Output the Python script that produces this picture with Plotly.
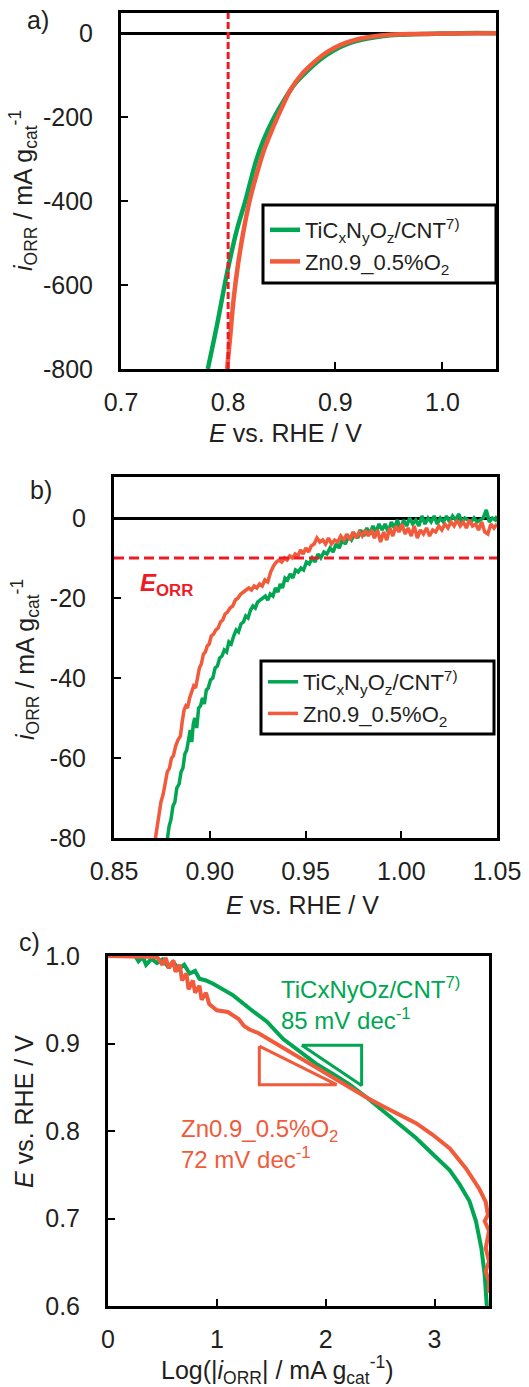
import plotly.graph_objects as go

# ---------------- data ----------------
# Panel a: ORR current vs potential
A_GREEN_E = [0.781, 0.790, 0.799, 0.808, 0.816, 0.826, 0.833, 0.842, 0.852, 0.862, 0.874,
             0.886, 0.898, 0.912, 0.930, 0.945, 0.960, 0.980, 1.000, 1.020, 1.050]
A_GREEN_I = [-800, -690, -571, -470, -400, -305, -255, -205, -160, -122, -90,
             -63, -42, -25, -13, -7, -4, -2, -1, 0, 0]
A_RED_E = [0.799, 0.802, 0.805, 0.809, 0.814, 0.820, 0.827, 0.834, 0.842, 0.850, 0.858,
           0.868, 0.880, 0.892, 0.905, 0.920, 0.935, 0.950, 0.970, 1.000, 1.050]
A_RED_I = [-800, -720, -636, -555, -476, -400, -333, -275, -224, -178, -136,
           -100, -70, -46, -28, -15, -8, -4, -2, -1, 0]
A_EORR_E = 0.8

# Panel b: zoom near onset
B_GREEN_E = [0.8778, 0.8788, 0.8797, 0.8808, 0.8818, 0.8828, 0.8840, 0.8850, 0.8860, 0.8870,
             0.8880, 0.8890, 0.8898, 0.8906, 0.8914, 0.8922, 0.8932, 0.8942, 0.8952, 0.8962,
             0.8972, 0.8982, 0.8992, 0.9004, 0.9016, 0.9028, 0.9040, 0.9052, 0.9064, 0.9076,
             0.9088, 0.9100, 0.9112, 0.9125, 0.9138, 0.9150, 0.9163, 0.9176, 0.9188, 0.9200,
             0.9213, 0.9226, 0.9238, 0.9250, 0.9263, 0.9276, 0.9290, 0.9303, 0.9316, 0.9330,
             0.9343, 0.9356, 0.9368, 0.9380, 0.9393, 0.9406, 0.9420, 0.9434, 0.9448, 0.9462,
             0.9476, 0.9490, 0.9505, 0.9520, 0.9535, 0.9550, 0.9565, 0.9580, 0.9596, 0.9612,
             0.9628, 0.9644, 0.9660, 0.9676, 0.9692, 0.9708, 0.9724, 0.9740, 0.9756, 0.9772,
             0.9788, 0.9804, 0.9820, 0.9836, 0.9852, 0.9868, 0.9884, 0.9900, 0.9916, 0.9932,
             0.9948, 0.9964, 0.9980, 0.9996, 1.0012, 1.0028, 1.0044, 1.0060, 1.0076, 1.0092,
             1.0108, 1.0124, 1.0140, 1.0156, 1.0172, 1.0188, 1.0204, 1.0220, 1.0236, 1.0252,
             1.0268, 1.0284, 1.0300, 1.0316, 1.0332, 1.0348, 1.0364, 1.0380, 1.0396, 1.0412,
             1.0428, 1.0444, 1.0460, 1.0476, 1.0492, 1.0500]
B_GREEN_I = [-80.5, -77.0, -75.5, -72.0, -71.0, -67.5, -66.5, -63.5, -62.5, -59.0,
             -58.0, -55.0, -53.0, -56.0, -51.5, -50.0, -52.5, -47.5, -47.0, -45.0,
             -46.5, -43.0, -42.5, -40.5, -40.0, -37.5, -37.0, -35.0, -34.5, -33.0,
             -33.5, -31.0, -31.5, -29.5, -28.0, -28.5, -26.5, -26.0, -24.5, -25.0,
             -23.0, -22.0, -22.5, -21.0, -20.5, -20.0, -19.5, -20.5, -19.0, -19.5,
             -17.5, -18.5, -16.5, -17.5, -15.0, -15.5, -14.0, -15.0, -13.0, -13.5,
             -12.5, -13.0, -11.0, -11.5, -10.0, -11.0, -9.0, -10.0, -8.5, -9.0,
             -7.5, -8.5, -6.5, -7.5, -5.5, -6.5, -4.5, -5.5, -4.0, -5.0,
             -3.0, -4.5, -2.5, -4.0, -2.0, -3.5, -1.5, -3.0, -1.5, -3.5,
             -1.0, -2.5, -0.5, -3.0, -0.5, -2.0, 0.0, -1.5, -0.5, -2.0,
             0.5, -1.5, 0.0, -1.0, 0.5, -1.5, 0.0, -1.0, 0.5, -1.0,
             0.5, -0.5, 1.0, -1.0, 0.0, -0.5, -1.0, 0.0, -1.0, -0.5,
             0.0, 2.0, -1.0, 0.0, -0.5, 0.5]
B_RED_E = [0.8715, 0.8725, 0.8735, 0.8745, 0.8757, 0.8768, 0.8778, 0.8790, 0.8800, 0.8810,
           0.8822, 0.8834, 0.8847, 0.8856, 0.8866, 0.8875, 0.8884, 0.8895, 0.8906, 0.8916,
           0.8926, 0.8936, 0.8946, 0.8956, 0.8967, 0.8977, 0.8987, 0.8997, 0.9008, 0.9020,
           0.9032, 0.9044, 0.9056, 0.9068, 0.9080, 0.9093, 0.9106, 0.9120, 0.9134, 0.9148,
           0.9162, 0.9176, 0.9190, 0.9204, 0.9218, 0.9232, 0.9246, 0.9260, 0.9274, 0.9288,
           0.9303, 0.9318, 0.9333, 0.9348, 0.9362, 0.9376, 0.9390, 0.9404, 0.9418, 0.9432,
           0.9446, 0.9460, 0.9474, 0.9488, 0.9502, 0.9516, 0.9530, 0.9545, 0.9560, 0.9575,
           0.9590, 0.9605, 0.9620, 0.9636, 0.9652, 0.9668, 0.9684, 0.9700, 0.9716, 0.9732,
           0.9748, 0.9764, 0.9780, 0.9796, 0.9812, 0.9828, 0.9844, 0.9860, 0.9876, 0.9892,
           0.9908, 0.9924, 0.9940, 0.9956, 0.9972, 0.9988, 1.0004, 1.0020, 1.0036, 1.0052,
           1.0068, 1.0084, 1.0100, 1.0116, 1.0132, 1.0148, 1.0164, 1.0180, 1.0196, 1.0212,
           1.0228, 1.0244, 1.0260, 1.0276, 1.0292, 1.0308, 1.0324, 1.0340, 1.0356, 1.0372,
           1.0388, 1.0404, 1.0420, 1.0436, 1.0452, 1.0468, 1.0484, 1.0500]
B_RED_I = [-80.5, -77.0, -74.0, -71.0, -69.0, -66.0, -63.5, -62.5, -60.0, -59.5,
           -57.0, -55.5, -54.5, -51.0, -48.0, -47.0, -47.5, -45.0, -43.0, -42.0,
           -42.5, -40.0, -37.5, -36.5, -34.0, -33.5, -32.0, -31.5, -29.5, -29.0,
           -28.0, -27.5, -26.0, -25.5, -24.0, -23.5, -22.5, -22.0, -20.5, -20.0,
           -19.0, -18.5, -18.0, -17.5, -18.0, -17.0, -17.5, -16.5, -17.0, -15.5,
           -16.0, -13.5, -12.0, -11.0, -10.5, -11.0, -10.0, -10.5, -9.5, -10.0,
           -9.0, -9.5, -8.0, -9.0, -7.5, -8.5, -7.0, -6.5, -5.0, -6.0,
           -5.5, -6.5, -5.0, -6.5, -5.5, -6.0, -4.5, -5.5, -4.0, -5.5,
           -3.5, -5.0, -3.5, -4.5, -3.0, -4.5, -3.0, -5.0, -3.0, -6.0,
           -3.5, -5.5, -2.5, -4.5, -2.0, -3.5, -1.5, -4.0, -2.5, -4.5,
           -2.0, -5.0, -3.0, -4.0, -2.5, -4.5, -3.0, -3.5, -2.0, -3.0,
           -1.5, -2.5, -1.0, -2.0, -0.5, -2.0, -1.0, -2.5, -0.5, -2.0,
           -1.5, -3.0, -1.0, -3.5, -4.0, -1.5, -2.5, -1.5]
B_EORR_I = -10

# Panel c: Tafel plot
C_GREEN_LOG = [0.00, 0.25, 0.28, 0.32, 0.35, 0.40, 0.45, 0.50, 0.55, 0.60, 0.65, 0.70, 0.75,
               0.80, 0.84, 0.90, 0.97, 1.05, 1.15, 1.30, 1.46, 1.61, 1.76, 1.91, 2.07, 2.22,
               2.38, 2.53, 2.68, 2.83, 2.98, 3.14, 3.23, 3.32, 3.38, 3.43, 3.46, 3.48]
C_GREEN_E = [1.000, 1.000, 0.994, 0.999, 0.990, 0.997, 0.992, 0.996, 0.988, 0.993, 0.985, 0.990, 0.980,
             0.983, 0.974, 0.972, 0.968, 0.962, 0.955, 0.940, 0.925, 0.905, 0.891, 0.877, 0.865, 0.853,
             0.838, 0.823, 0.808, 0.792, 0.774, 0.755, 0.739, 0.720, 0.697, 0.666, 0.636, 0.600]
C_RED_LOG = [0.00, 0.30, 0.45, 0.50, 0.53, 0.56, 0.60, 0.62, 0.66, 0.68, 0.72, 0.74, 0.78, 0.80,
             0.84, 0.86, 0.90, 0.93, 0.96, 1.00, 1.10, 1.20, 1.25, 1.30, 1.38, 1.46, 1.61, 1.76,
             1.92, 2.07, 2.22, 2.38, 2.53, 2.68, 2.83, 2.98, 3.14, 3.29, 3.41, 3.47, 3.49, 3.46,
             3.50, 3.47, 3.50, 3.47, 3.50, 3.50]
C_RED_E = [1.000, 1.000, 0.999, 0.990, 0.998, 0.986, 0.995, 0.982, 0.990, 0.972, 0.980, 0.962, 0.972, 0.958,
           0.966, 0.950, 0.958, 0.945, 0.942, 0.938, 0.936, 0.928, 0.920, 0.916, 0.912, 0.906, 0.895, 0.884,
           0.872, 0.861, 0.850, 0.838, 0.828, 0.819, 0.809, 0.796, 0.780, 0.757, 0.734, 0.719, 0.704, 0.697,
           0.686, 0.666, 0.651, 0.640, 0.628, 0.615]
# Tafel slope triangles (log|i|, E)
C_TRI_GREEN_LOG = [1.78, 2.33, 2.33, 1.78]
C_TRI_GREEN_E = [0.898, 0.898, 0.852, 0.898]
C_TRI_RED_LOG = [1.39, 1.39, 2.10, 1.39]
C_TRI_RED_E = [0.897, 0.853, 0.853, 0.897]

NAME_GREEN = "TiC<sub>x</sub>N<sub>y</sub>O<sub>z</sub>/CNT<sup>7)</sup>"
NAME_RED = "Zn0.9_0.5%O<sub>2</sub>"

A_XTICKS = [0.7, 0.8, 0.9, 1.0]
A_XTEXT = ["0.7", "0.8", "0.9", "1.0"]
A_YTICKS = [-800, -600, -400, -200, 0]
A_YTEXT = ["-800", "-600", "-400", "-200", "0"]
B_XTICKS = [0.85, 0.90, 0.95, 1.00, 1.05]
B_XTEXT = ["0.85", "0.90", "0.95", "1.00", "1.05"]
B_YTICKS = [-80, -60, -40, -20, 0]
B_YTEXT = ["-80", "-60", "-40", "-20", "0"]
C_XTICKS = [0, 1, 2, 3]
C_XTEXT = ["0", "1", "2", "3"]
C_YTICKS = [0.6, 0.7, 0.8, 0.9, 1.0]
C_YTEXT = ["0.6", "0.7", "0.8", "0.9", "1.0"]

# ---------------- style ----------------
W, H = 529, 1387
GREEN = "#00a651"
RED = "#f15a3b"
DRED = "#ed1c24"
TXT = "#231f20"
FONT = "Liberation Sans, Arial, sans-serif"


def px(x):
    return x / W


def py(y):
    return 1 - y / H


fig = go.Figure()

# panel a
fig.add_trace(go.Scatter(x=A_GREEN_E, y=A_GREEN_I, mode="lines", name=NAME_GREEN,
                         line=dict(color=GREEN, width=4.5, shape="spline"),
                         xaxis="x", yaxis="y", legend="legend"))
fig.add_trace(go.Scatter(x=A_RED_E, y=A_RED_I, mode="lines", name=NAME_RED,
                         line=dict(color=RED, width=4.5, shape="spline"),
                         xaxis="x", yaxis="y", legend="legend"))
# panel b
fig.add_trace(go.Scatter(x=B_GREEN_E, y=B_GREEN_I, mode="lines", name=NAME_GREEN,
                         line=dict(color=GREEN, width=3.5),
                         xaxis="x2", yaxis="y2", legend="legend2"))
fig.add_trace(go.Scatter(x=B_RED_E, y=B_RED_I, mode="lines", name=NAME_RED,
                         line=dict(color=RED, width=3.5),
                         xaxis="x2", yaxis="y2", legend="legend2"))
# panel c
fig.add_trace(go.Scatter(x=C_GREEN_LOG, y=C_GREEN_E, mode="lines", showlegend=False,
                         line=dict(color=GREEN, width=4), xaxis="x3", yaxis="y3"))
fig.add_trace(go.Scatter(x=C_RED_LOG, y=C_RED_E, mode="lines", showlegend=False,
                         line=dict(color=RED, width=4), xaxis="x3", yaxis="y3"))
fig.add_trace(go.Scatter(x=C_TRI_GREEN_LOG, y=C_TRI_GREEN_E, mode="lines", showlegend=False,
                         line=dict(color=GREEN, width=3), xaxis="x3", yaxis="y3"))
fig.add_trace(go.Scatter(x=C_TRI_RED_LOG, y=C_TRI_RED_E, mode="lines", showlegend=False,
                         line=dict(color=RED, width=3), xaxis="x3", yaxis="y3"))

axis_common = dict(showline=True, linecolor="black", linewidth=3, mirror=True,
                   ticks="inside", ticklen=7, tickwidth=1.5, tickcolor="black",
                   showgrid=False, zeroline=False, automargin=False,
                   tickfont=dict(family=FONT, size=25, color=TXT))
xcommon = dict(axis_common, ticklabelstandoff=9)
ycommon = dict(axis_common, ticklabelstandoff=20)

layout = dict(
    width=W, height=H, margin=dict(l=0, r=0, t=0, b=0), autosize=False,
    paper_bgcolor="white", plot_bgcolor="white",
    font=dict(family=FONT, size=25, color=TXT),
    xaxis=dict(xcommon, domain=[px(121), px(496)], anchor="y", range=[0.7, 1.05],
               tickvals=A_XTICKS, ticktext=A_XTEXT),
    yaxis=dict(ycommon, domain=[py(369), py(13)], anchor="x", range=[-800, 48],
               tickvals=A_YTICKS, ticktext=A_YTEXT,
               zeroline=True, zerolinecolor="black", zerolinewidth=3),
    xaxis2=dict(xcommon, domain=[px(114), px(497)], anchor="y2", range=[0.85, 1.05],
                tickvals=B_XTICKS, ticktext=B_XTEXT),
    yaxis2=dict(ycommon, domain=[py(838), py(477)], anchor="x2", range=[-80, 10.25],
                tickvals=B_YTICKS, ticktext=B_YTEXT,
                zeroline=True, zerolinecolor="black", zerolinewidth=3),
    xaxis3=dict(xcommon, domain=[px(108), px(489)], anchor="y3", range=[0, 3.5],
                tickvals=C_XTICKS, ticktext=C_XTEXT),
    yaxis3=dict(ycommon, domain=[py(1306), py(956)], anchor="x3", range=[0.6, 1.0],
                tickvals=C_YTICKS, ticktext=C_YTEXT),
    legend=dict(x=px(265), xanchor="left", y=py(209), yanchor="top",
                bgcolor="rgba(0,0,0,0)", borderwidth=0,
                font=dict(family=FONT, size=22, color=TXT), tracegroupgap=0),
    legend2=dict(x=px(263), xanchor="left", y=py(661), yanchor="top",
                 bgcolor="rgba(0,0,0,0)", borderwidth=0,
                 font=dict(family=FONT, size=22, color=TXT), tracegroupgap=0),
)
fig.update_layout(**layout)

shapes = [
    # E_ORR markers
    dict(type="line", xref="x", yref="y domain", x0=A_EORR_E, x1=A_EORR_E, y0=0, y1=1,
         line=dict(color=DRED, width=3, dash="7px,3px"), layer="above"),
    dict(type="line", xref="x2 domain", yref="y2", x0=0, x1=1, y0=B_EORR_I, y1=B_EORR_I,
         line=dict(color=DRED, width=3, dash="10px,5px"), layer="above"),
    # legend frames
    dict(type="rect", xref="paper", yref="paper", x0=px(263), x1=px(496), y0=py(283), y1=py(205),
         line=dict(color="black", width=3), layer="above"),
    dict(type="rect", xref="paper", yref="paper", x0=px(261), x1=px(494), y0=py(734), y1=py(661),
         line=dict(color="black", width=3), layer="above"),
]
fig.update_layout(shapes=shapes)


def ann(x, y, text, size=25, color=TXT, angle=0, xanchor="center", yanchor="middle"):
    return dict(xref="paper", yref="paper", x=px(x), y=py(y), text=text, showarrow=False,
                textangle=angle, xanchor=xanchor, yanchor=yanchor,
                font=dict(family=FONT, size=size, color=color))


annotations = [
    ann(38, 20, "a)"),
    ann(41, 490, "b)"),
    ann(29, 942, "c)"),
    ann(285, 433, "<i>E</i> vs. RHE / V"),
    ann(23, 191, "<i>i</i><sub>ORR</sub> / mA g<sub>cat</sub><sup>-1</sup>", angle=-90),
    ann(302, 905, "<i>E</i> vs. RHE / V"),
    ann(25, 660, "<i>i</i><sub>ORR</sub> / mA g<sub>cat</sub><sup>-1</sup>", angle=-90),
    ann(277, 1370, "Log(|<i>i</i><sub>ORR</sub>| / mA g<sub>cat</sub><sup>-1</sup>)"),
    ann(24, 1112, "<i>E</i> vs. RHE / V", angle=-90),
    ann(138, 584, "<b><i>E</i><sub>ORR</sub></b>", size=24, color=DRED, xanchor="left"),
    ann(279, 988, "TiCxNyOz/CNT<sup>7)</sup>", size=24, color=GREEN, xanchor="left"),
    ann(279, 1019, "85 mV dec<sup>-1</sup>", size=24, color=GREEN, xanchor="left"),
    ann(179, 1130, "Zn0.9_0.5%O<sub>2</sub>", size=24, color=RED, xanchor="left"),
    ann(179, 1158, "72 mV dec<sup>-1</sup>", size=24, color=RED, xanchor="left"),
]
fig.update_layout(annotations=annotations)

fig.write_html("out.html")
